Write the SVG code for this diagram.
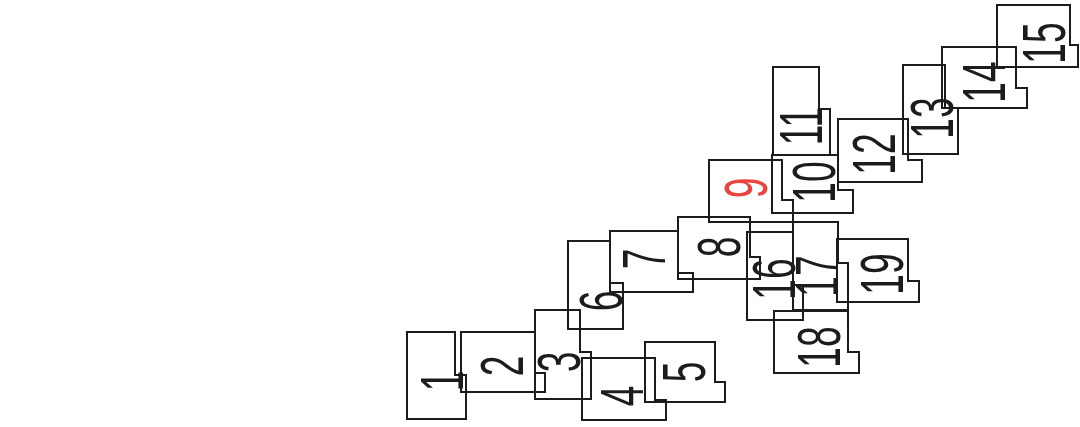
<svg xmlns="http://www.w3.org/2000/svg" width="1080" height="427" viewBox="0 0 1080 427">
<style>
.b{fill:none;stroke:#1c1c1c;stroke-width:2;stroke-linejoin:miter}
.t{font-family:"Liberation Sans",Arial,sans-serif;font-size:62px;fill:#1c1c1c;text-anchor:middle}
.r{fill:#e8453c}
</style>
<rect width="1080" height="427" fill="#ffffff"/>
<g id="n1"><polygon class="b" points="407,332 455,332 455,375 466,375 466,419 407,419"/><text class="t" transform="translate(463,381) rotate(-90) scale(0.6,1)">1</text></g>
<g id="n2"><polygon class="b" points="461,332 535,332 535,373 545,373 545,392 461,392"/><text class="t" transform="translate(523,366) rotate(-90) scale(0.6,1)">2</text></g>
<g id="n3"><polygon class="b" points="535,310 580,310 580,352 591,352 591,399 535,399"/><text class="t" transform="translate(580,362) rotate(-90) scale(0.6,1)">3</text></g>
<g id="n4"><polygon class="b" points="582,358 655,358 655,400 666,400 666,420 582,420"/><text class="t" transform="translate(643,396) rotate(-90) scale(0.6,1)">4</text></g>
<g id="n5"><polygon class="b" points="645,342 715,342 715,382 725,382 725,402 645,402"/><text class="t" transform="translate(705,372) rotate(-90) scale(0.6,1)">5</text></g>
<g id="n6"><polygon class="b" points="568,241 610,241 610,283 623,283 623,329 568,329"/><text class="t" transform="translate(622,301) rotate(-90) scale(0.6,1)">6</text></g>
<g id="n7"><polygon class="b" points="610,231 678,231 678,273 693,273 693,292 610,292"/><text class="t" transform="translate(665,259) rotate(-90) scale(0.6,1)">7</text></g>
<g id="n8"><polygon class="b" points="678,217 750,217 750,257 760,257 760,279 678,279"/><text class="t" transform="translate(740,247) rotate(-90) scale(0.6,1)">8</text></g>
<g id="n9"><polygon class="b" points="709,160 782,160 782,200 793,200 793,222 709,222"/><text class="t r" transform="translate(767,188) rotate(-90) scale(0.6,1)">9</text></g>
<g id="n10"><polygon class="b" points="772,155 838,155 838,190 853,190 853,213 772,213"/><text class="t" transform="translate(835,182) rotate(-90) scale(0.6,1)">10</text></g>
<g id="n11"><polygon class="b" points="773,67 819,67 819,109 830,109 830,155 773,155"/><text class="t" transform="translate(822,126) rotate(-90) scale(0.6,1)">11</text></g>
<g id="n12"><polygon class="b" points="838,119 908,119 908,160 922,160 922,182 838,182"/><text class="t" transform="translate(895,154) rotate(-90) scale(0.6,1)">12</text></g>
<g id="n13"><polygon class="b" points="903,65 945,65 945,108 958,108 958,154 903,154"/><text class="t" transform="translate(953,118) rotate(-90) scale(0.6,1)">13</text></g>
<g id="n14"><polygon class="b" points="942,47 1016,47 1016,88 1027,88 1027,108 942,108"/><text class="t" transform="translate(1005,82) rotate(-90) scale(0.6,1)">14</text></g>
<g id="n15"><polygon class="b" points="997,5 1070,5 1070,45 1078,45 1078,67 997,67"/><text class="t" transform="translate(1065,43) rotate(-90) scale(0.6,1)">15</text></g>
<g id="n16"><polygon class="b" points="747,232 793,232 793,285 803,285 803,320 747,320"/><text class="t" transform="translate(795,279) rotate(-90) scale(0.6,1)">16</text></g>
<g id="n17"><polygon class="b" points="793,222 838,222 838,263 848,263 848,310 793,310"/><text class="t" transform="translate(838,276) rotate(-90) scale(0.6,1)">17</text></g>
<g id="n18"><polygon class="b" points="774,311 848,311 848,352 859,352 859,373 774,373"/><text class="t" transform="translate(840,347) rotate(-90) scale(0.6,1)">18</text></g>
<g id="n19"><polygon class="b" points="837,239 908,239 908,281 919,281 919,302 837,302"/><text class="t" transform="translate(903,274) rotate(-90) scale(0.6,1)">19</text></g>
</svg>
